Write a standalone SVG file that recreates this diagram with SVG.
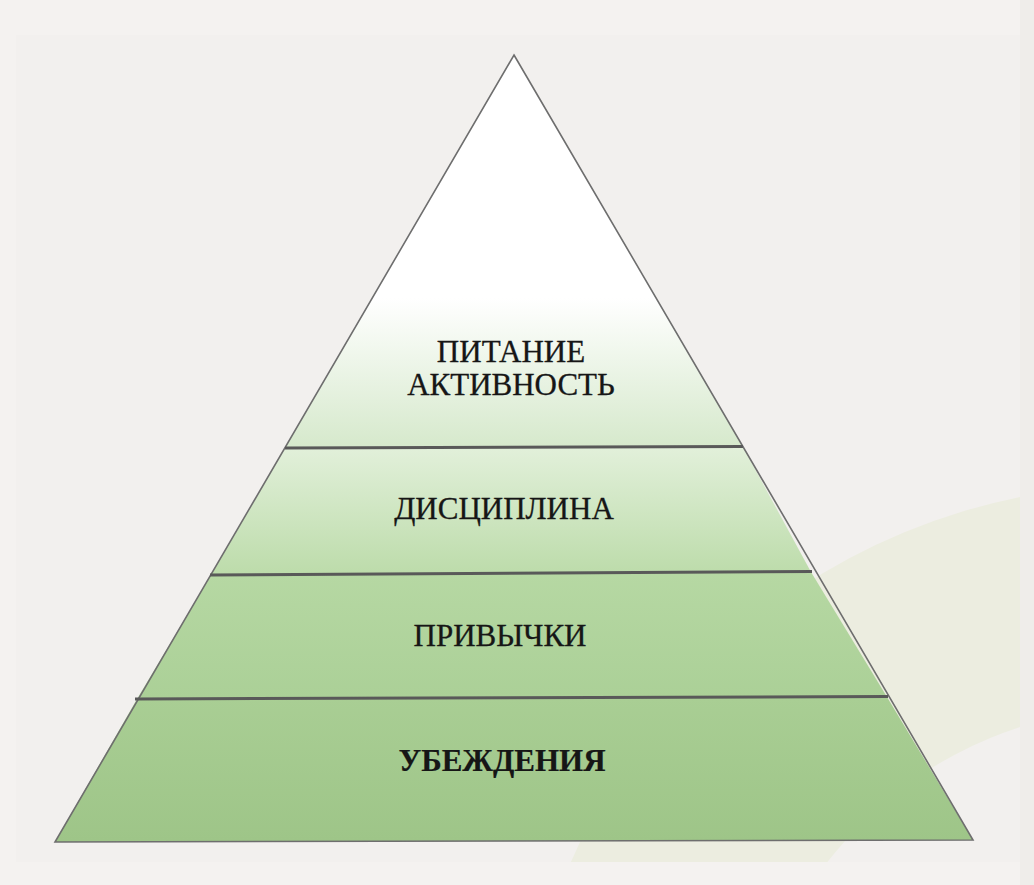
<svg xmlns="http://www.w3.org/2000/svg" width="1034" height="885" viewBox="0 0 1034 885">
  <defs>
    <linearGradient id="g1" x1="0" y1="55" x2="0" y2="447" gradientUnits="userSpaceOnUse">
      <stop offset="0" stop-color="#ffffff"/>
      <stop offset="0.62" stop-color="#ffffff"/>
      <stop offset="1" stop-color="#d6e9cc"/>
    </linearGradient>
    <linearGradient id="g2" x1="0" y1="447" x2="0" y2="573" gradientUnits="userSpaceOnUse">
      <stop offset="0" stop-color="#e2f0da"/>
      <stop offset="1" stop-color="#bddcab"/>
    </linearGradient>
    <linearGradient id="g3" x1="0" y1="573" x2="0" y2="698" gradientUnits="userSpaceOnUse">
      <stop offset="0" stop-color="#b6d8a3"/>
      <stop offset="1" stop-color="#abd097"/>
    </linearGradient>
    <linearGradient id="g4" x1="0" y1="698" x2="0" y2="841" gradientUnits="userSpaceOnUse">
      <stop offset="0" stop-color="#a9ce94"/>
      <stop offset="1" stop-color="#9ec588"/>
    </linearGradient>
    <clipPath id="inner">
      <rect x="16" y="35" width="1004" height="827"/>
    </clipPath>
  </defs>
  <style>
    .lbl { font-family: "Liberation Serif", "Times New Roman", serif; font-size: 31px; fill: #161616; stroke: #161616; stroke-width: 0.3; text-anchor: middle; }
    .bold { font-weight: bold; stroke-width: 0.2; }
    .edge { fill: none; stroke: #6e6e6e; stroke-width: 1.6; stroke-linejoin: miter; }
    .div { stroke: #595959; stroke-width: 3; stroke-linecap: butt; }
  </style>

  <!-- background -->
  <rect x="0" y="0" width="1034" height="885" fill="#f4f2f0"/>
  <rect x="16" y="35" width="1004" height="827" fill="#f2f0ee"/>
  <rect x="1020" y="0" width="14" height="885" fill="#efedea"/>
  <path clip-path="url(#inner)" fill="#ecede0" fill-rule="evenodd"
        d="M 1142 1106 m -621 0 a 621 621 0 1 0 1242 0 a 621 621 0 1 0 -1242 0 Z M 1142 1106 m -398 0 a 398 398 0 1 0 796 0 a 398 398 0 1 0 -796 0 Z"/>

  <!-- pyramid bands -->
  <g id="band-top">
    <polygon points="514,55 743,447 285,448" fill="url(#g1)"/>
    <text class="lbl" x="511" y="362">ПИТАНИЕ</text>
    <text class="lbl" x="511" y="395">АКТИВНОСТЬ</text>
  </g>
  <g id="band-discipline">
    <polygon points="285,448 743,447 811,572 211,575" fill="url(#g2)"/>
    <text class="lbl" x="504" y="519">ДИСЦИПЛИНА</text>
  </g>
  <g id="band-habits">
    <polygon points="211,575 811,572 887,697 137,699" fill="url(#g3)"/>
    <text class="lbl" x="500" y="646">ПРИВЫЧКИ</text>
  </g>
  <g id="band-beliefs">
    <polygon points="137,699 887,697 973,840 55,842" fill="url(#g4)"/>
    <text class="lbl bold" x="502" y="771">УБЕЖДЕНИЯ</text>
  </g>

  <!-- outline and dividers -->
  <g id="connectors">
    <polygon class="edge" points="514,55 973,840 55,842"/>
    <line class="div" x1="285" y1="448" x2="743" y2="446.5"/>
    <line class="div" x1="210" y1="575" x2="812" y2="571.5"/>
    <line class="div" x1="135" y1="699" x2="888" y2="696.5"/>
  </g>
</svg>
